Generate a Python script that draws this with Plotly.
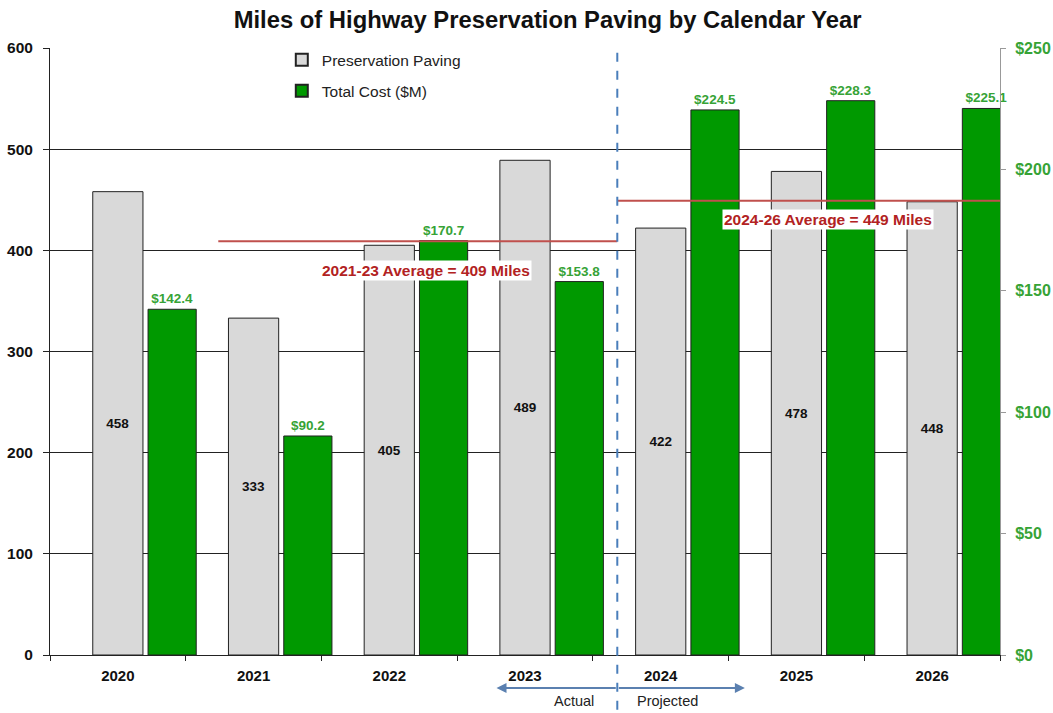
import plotly.graph_objects as go

years = ["2020", "2021", "2022", "2023", "2024", "2025", "2026"]
miles = [458, 333, 405, 489, 422, 478, 448]
cost = [142.4, 90.2, 170.7, 153.8, 224.5, 228.3, 225.1]
avg_actual = 409
avg_projected = 449

idx = list(range(len(years)))
gray_x = [i for i in idx]
green_x = [i + 0.40 for i in idx]

FONT = "Arial, Liberation Sans, sans-serif"
GREEN_TXT = "#36a336"

fig = go.Figure()
fig.add_trace(go.Bar(
    x=gray_x, y=miles, width=0.37, name="Preservation Paving", legendgroup="a",
    marker=dict(color="#d9d9d9", line=dict(color="#222222", width=1)),
    text=[str(v) for v in miles], textposition="inside", insidetextanchor="middle",
    textfont=dict(family=FONT, size=13.5, color="#111111"),
    texttemplate="<b>%{text}</b>",
))
fig.add_trace(go.Bar(
    x=green_x, y=cost, width=0.355, name="Total Cost ($M)", yaxis="y2", legendgroup="b",
    marker=dict(color="#009900", line=dict(color="#222222", width=1)),
    text=[f"<b>${v:.1f}</b>" for v in cost], textposition="outside",
    textfont=dict(family=FONT, size=13.5, color=GREEN_TXT),
    cliponaxis=False,
))

div_x = 3.68
# average lines
fig.add_shape(type="line", xref="x", yref="y", x0=0.74, x1=div_x, y0=avg_actual, y1=avg_actual,
              line=dict(color="#c0504d", width=2))
fig.add_shape(type="line", xref="x", yref="y", x0=div_x, x1=6.72, y0=avg_projected, y1=avg_projected,
              line=dict(color="#c0504d", width=2))
# divider
fig.add_shape(type="line", xref="x", yref="paper", x0=div_x, x1=div_x, y0=-0.12, y1=1.0,
              line=dict(color="#4a7ebb", width=2, dash="dash"))

fig.add_annotation(x=2.27, y=380, xref="x", yref="y", showarrow=False,
                   text="<b>2021-23 Average = 409 Miles</b>",
                   font=dict(family=FONT, size=15.5, color="#b22222"), bgcolor="white")
fig.add_annotation(x=5.23, y=430, xref="x", yref="y", showarrow=False,
                   text="<b>2024-26 Average = 449 Miles</b>",
                   font=dict(family=FONT, size=15.5, color="#b22222"), bgcolor="white")

# actual / projected arrows
for tip in [2.79, 4.62]:
    fig.add_annotation(x=tip, y=-0.0544, xref="x", yref="paper", ax=div_x, ay=0,
                       axref="x", ayref="pixel", showarrow=True, arrowhead=2, arrowsize=1,
                       arrowwidth=2, arrowcolor="#5b80b0", text="")
fig.add_annotation(x=3.36, y=-0.0758, xref="x", yref="paper", yanchor="middle", showarrow=False,
                   text="Actual", font=dict(family=FONT, size=14.5, color="#222222"))
fig.add_annotation(x=4.05, y=-0.0758, xref="x", yref="paper", yanchor="middle", showarrow=False,
                   text="Projected", font=dict(family=FONT, size=14.5, color="#222222"))

fig.update_layout(
    width=1053, height=713,
    margin=dict(l=50, r=53, t=48, b=58, autoexpand=False),
    paper_bgcolor="white", plot_bgcolor="white",
    title=dict(text="<b>Miles of Highway Preservation Paving by Calendar Year</b>",
               x=0.52, xanchor="center", y=0.972, yanchor="middle",
               font=dict(family=FONT, size=23.8, color="#111111")),
    barmode="overlay",
    showlegend=True,
    legend=dict(x=0.244, y=1.008, xanchor="left", yanchor="top", bgcolor="rgba(0,0,0,0)",
                font=dict(family=FONT, size=15.5, color="#222222"), tracegroupgap=8,
                itemsizing="constant"),
    xaxis=dict(range=[-0.5, 6.5], tickvals=idx, ticktext=[f"<b>{y}</b>" for y in years],
               ticks="", showgrid=False, zeroline=False, showline=True, linecolor="#222222",
               automargin=False, ticklabelstandoff=7,
               tickfont=dict(family=FONT, size=15, color="#111111"),
               minor=dict(tick0=0.5, dtick=1, ticks="outside", ticklen=5, tickcolor="#222222", showgrid=False)),
    yaxis=dict(range=[0, 600], showgrid=True, gridcolor="#222222", gridwidth=1,
               showline=True, linecolor="#222222", ticks="outside", ticklen=6, tickcolor="#222222",
               zeroline=False, automargin=False, ticklabelstandoff=7,
               tickfont=dict(family=FONT, size=15.5, color="#111111"),
               tickvals=[0, 100, 200, 300, 400, 500, 600],
               ticktext=[f"<b>{v}</b>" for v in [0, 100, 200, 300, 400, 500, 600]]),
    yaxis2=dict(range=[0, 250], overlaying="y", side="right", showgrid=False,
                showline=True, linecolor="#999999", ticks="outside", ticklen=5, tickcolor="#999999",
                zeroline=False, automargin=False, ticklabelstandoff=6,
                tickfont=dict(family=FONT, size=16, color=GREEN_TXT),
                tickvals=[0, 50, 100, 150, 200, 250],
                ticktext=[f"<b>${v}</b>" for v in [0, 50, 100, 150, 200, 250]]),
)

fig.write_html("out.html", config={"displayModeBar": False},
               post_script="document.body.style.margin='0px';")
